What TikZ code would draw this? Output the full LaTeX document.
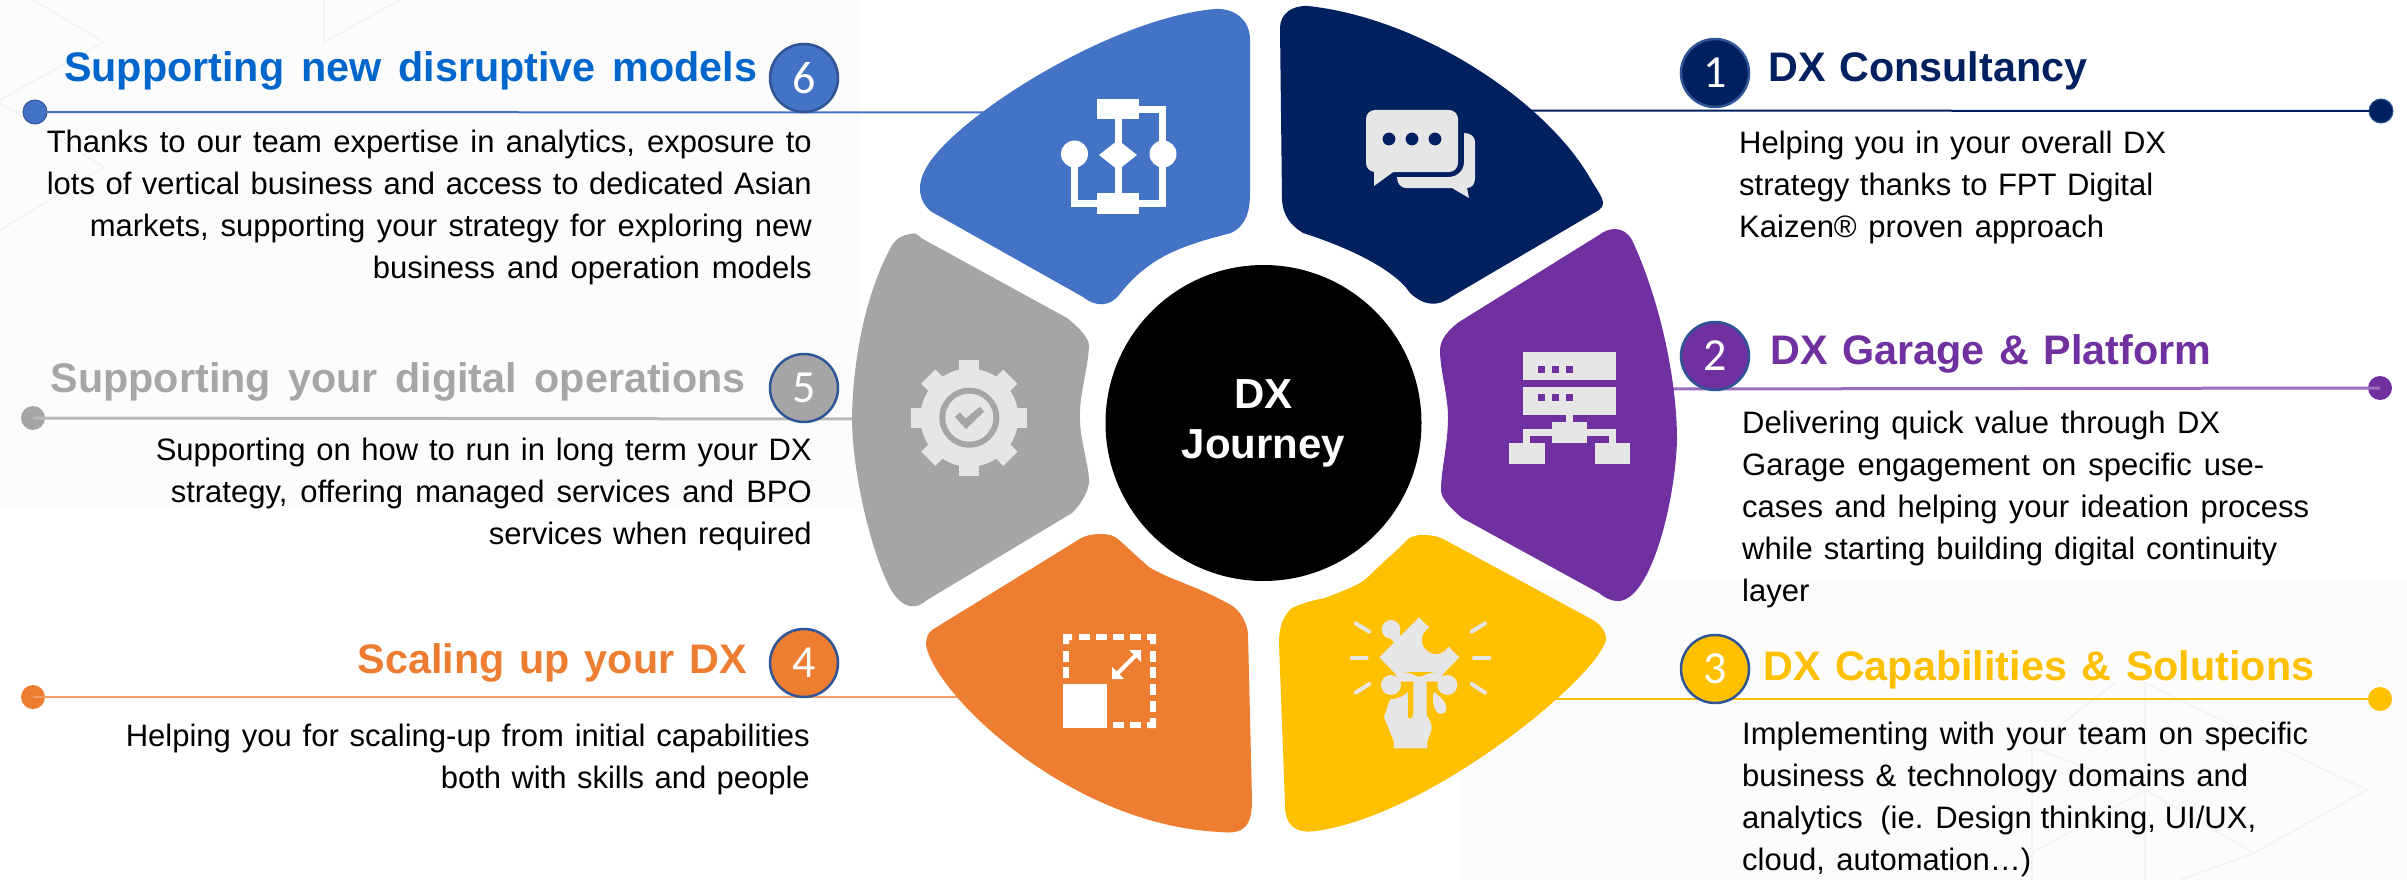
\documentclass[tikz,border=0pt]{standalone}
\usepackage{fontspec}
\setmainfont{Liberation Sans}
\newfontfamily\numfont{Carlito}
\definecolor{cblue}{HTML}{4472C4}
\definecolor{cnavy}{HTML}{002060}
\definecolor{cpurple}{HTML}{7030A0}
\definecolor{cyellow}{HTML}{FFC000}
\definecolor{corange}{HTML}{ED7D31}
\definecolor{cgrey}{HTML}{A5A5A5}
\definecolor{cedge}{HTML}{2F5597}
\definecolor{cicon}{HTML}{E7E6E6}
\definecolor{ctitle}{HTML}{0066CC}
\definecolor{cdeco}{HTML}{F3F3F3}
\newcommand{\fl}[2]{\makebox[#1pt][s]{#2}}
\tikzset{
  numcirc/.style={circle,draw=cedge,line width=2.5pt,fill=#1,text=white,minimum size=68pt,inner sep=0pt,font=\numfont\fontsize{46}{46}\selectfont},
  enddot/.style={circle,fill=#1,minimum size=24pt,inner sep=0pt},
  title/.style={inner sep=0pt,text=#1,font=\fontsize{41.3}{44}\selectfont\bfseries},
  bodyr/.style={inner sep=0pt,align=right,font=\fontsize{31}{41.8}\selectfont,anchor=base east},
  bodyl/.style={inner sep=0pt,align=left,font=\fontsize{31}{41.8}\selectfont,anchor=base west},
  petal/.style={fill=#1,draw=none},
  deco/.style={draw=cdeco,line width=1.6pt},
  leader/.style={line width=#1}
}
\begin{document}
\begin{tikzpicture}[x=1pt,y=-1pt]
\useasboundingbox (0,0) rectangle (2407,880);
\fill[white] (0,0) rectangle (2407,880);
% background tint and faint decoration
\fill[black!1] (0,0) rectangle (860,508);
\fill[black!1] (1460,580) rectangle (2407,880);
\draw[deco] (33,0) -- (104,42) -- (0,100);
\draw[deco] (0,103) -- (104,167) -- (0,230);
\draw[deco] (324,0) -- (324,42) -- (400,0);
\draw[deco] (2115,683) -- (2032,747) -- (2145,790) -- (2254,853) -- (2367,790) -- (2145,683) -- (2145,880);
\draw[deco] (2032,747) -- (2032,880);
\draw[deco] (2145,790) -- (2032,853);
\draw[deco] (2254,853) -- (2180,880);

% end dots and anchors
\node[enddot=cblue,draw=cedge,line width=1pt] (d6) at (35,112) {};
\node[enddot=cgrey] (d5) at (33,418) {};
\node[enddot=corange] (d4) at (33,697) {};
\node[enddot=cnavy,draw=cedge,line width=1pt] (d1) at (2381,111) {};
\node[enddot=cpurple] (d2) at (2380,388) {};
\node[enddot=cyellow] (d3) at (2380,699) {};
\coordinate (e6) at (1000,112.5);
\coordinate (e5) at (870,419);
\coordinate (e4) at (960,697);
\coordinate (e1) at (1520,110.5);
\coordinate (e2) at (1660,389);
\coordinate (e3) at (1550,699);
\draw[leader=2pt,draw=cblue] (d6.center) -- (e6);
\draw[leader=3pt,draw=black!28] (d5.center) -- (e5);
\draw[leader=2.5pt,draw=corange!75] (d4.center) -- (e4);
\draw[leader=2pt,draw=cnavy] (d1.center) -- (e1);
\draw[leader=3pt,draw=cpurple!70] (d2.center) -- (e2);
\draw[leader=2.5pt,draw=cyellow] (d3.center) -- (e3);

% petals
\path[petal=cblue] (1250,40) .. controls (1250,20) and (1235,8) .. (1215,9)
  .. controls (1110,18) and (950,120) .. (925,170)
  .. controls (917,185) and (918,202) .. (932,212)
  -- (1083,297) .. controls (1097,308) and (1110,306) .. (1119,295)
  .. controls (1150,255) and (1185,245) .. (1231,233)
  .. controls (1247,225) and (1250,210) .. (1250,193) -- cycle;
\path[petal=cnavy] (1280,28) .. controls (1280,14) and (1292,5) .. (1308,6)
  .. controls (1420,18) and (1545,100) .. (1590,178)
  .. controls (1600,195) and (1608,203) .. (1599,210)
  -- (1451,297) .. controls (1438,307) and (1424,306) .. (1410,293)
  .. controls (1395,270) and (1350,248) .. (1303,233)
  .. controls (1290,225) and (1283,215) .. (1282,200) -- cycle;
\path[petal=cgrey] (910,234) .. controls (916,232) and (918,235) .. (921,238)
  -- (1067,318) .. controls (1082,330) and (1090,340) .. (1089,347)
  .. controls (1087,375) and (1079,395) .. (1080,420)
  .. controls (1080,440) and (1090,470) .. (1089,483)
  .. controls (1087,495) and (1080,505) .. (1072,513)
  -- (927,600) .. controls (918,608) and (905,612) .. (891,590)
  .. controls (870,550) and (852,470) .. (852,417)
  .. controls (853,360) and (865,295) .. (891,247)
  .. controls (896,238) and (903,235) .. (910,234) -- cycle;
\path[petal=cpurple] (1615,229) .. controls (1622,229) and (1628,233) .. (1632,240)
  .. controls (1660,300) and (1677,380) .. (1677,440)
  .. controls (1675,505) and (1650,601) .. (1618,601)
  .. controls (1610,601) and (1604,597) .. (1599,593)
  -- (1462,518) .. controls (1447,505) and (1441,497) .. (1441,490)
  .. controls (1441,470) and (1448,445) .. (1448,417)
  .. controls (1448,395) and (1440,370) .. (1440,350)
  .. controls (1440,340) and (1448,330) .. (1459,322) -- (1599,235)
  .. controls (1604,231) and (1610,229) .. (1615,229) -- cycle;
\path[petal=corange] (1102,534) .. controls (1094,534) and (1085,535) .. (1078,540)
  -- (932,630) .. controls (928,633) and (926,638) .. (926,645)
  .. controls (935,695) and (1070,825) .. (1220,832)
  .. controls (1245,835) and (1252,825) .. (1252,800)
  -- (1248,633) .. controls (1246,620) and (1240,611) .. (1231,605)
  .. controls (1195,585) and (1170,580) .. (1149,567)
  .. controls (1135,555) and (1125,545) .. (1119,540)
  .. controls (1115,536) and (1109,534) .. (1102,534) -- cycle;
\path[petal=cyellow] (1423,535) .. controls (1430,535) and (1438,536) .. (1445,540)
  -- (1593,620) .. controls (1602,626) and (1606,632) .. (1606,640)
  .. controls (1595,680) and (1430,815) .. (1316,831)
  .. controls (1295,834) and (1285,825) .. (1285,805)
  -- (1279,643) .. controls (1279,628) and (1283,615) .. (1292,608)
  .. controls (1305,602) and (1315,600) .. (1325,598)
  .. controls (1345,590) and (1360,585) .. (1368,577)
  .. controls (1385,560) and (1400,548) .. (1407,540)
  .. controls (1411,536) and (1417,535) .. (1423,535) -- cycle;

% centre
\node[circle,fill=black,minimum size=316pt,inner sep=0pt,text=white,align=center,font=\fontsize{42}{50}\selectfont\bfseries] (hub) at (1263.5,423) {DX\\Journey};

% icon 6: flowchart
\begin{scope}[white]
\fill (1097,99) rectangle (1139,119);
\fill (1097,193) rectangle (1139,214);
\fill (1118,140) -- (1137,155) -- (1118,170) -- (1099,155) -- cycle;
\fill (1074.5,154) circle (13.5);
\fill (1163,154) circle (13.5);
\draw[line width=7pt] (1118,119) -- (1118,193);
\draw[line width=7pt] (1139,109.5) -- (1162.5,109.5) -- (1162.5,141);
\draw[line width=7pt] (1162.5,167) -- (1162.5,203.5) -- (1139,203.5);
\draw[line width=7pt] (1074.5,167) -- (1074.5,203.5) -- (1097,203.5);
\end{scope}
% icon 1: chat
\fill[cicon,rounded corners=9pt] (1366,110) rectangle (1458,172);
\fill[cicon] (1374,170) -- (1374,186) -- (1396,170) -- cycle;
\foreach \px in {1389,1412,1435} \fill[cnavy] (\px,139) circle (6.4);
\fill[cicon] (1464,133) .. controls (1471,133) and (1475,137) .. (1475,142) -- (1475,178)
  .. controls (1475,184) and (1472,188) .. (1467,188) -- (1469,198) -- (1452,188) -- (1407,188)
  .. controls (1400,188) and (1397,183) .. (1397,177) -- (1448,177)
  .. controls (1458,177) and (1464,170) .. (1464,162) -- cycle;
% icon 2: servers
\begin{scope}[cicon]
\fill (1523,352) rectangle (1616,380);
\fill (1523,387) rectangle (1616,415);
\fill (1566,415) rectangle (1573,422);
\fill (1552,422) rectangle (1587,443);
\fill (1523,429) rectangle (1616,436);
\fill (1523,429) rectangle (1530,443);
\fill (1609,429) rectangle (1616,443);
\fill (1509,443) rectangle (1545,464);
\fill (1594.5,443) rectangle (1630,464);
\end{scope}
\foreach \py in {366,394} \foreach \px in {1538,1552,1566} \fill[cpurple] (\px,\py) rectangle ++(7,7);
% icon 5: gear
\begin{scope}[shift={(969.3,417.7)}]
\fill[cicon] (0,0) circle (49);
\foreach \ang in {0,45,...,315} \fill[cicon,rotate=\ang] (-10,-58) rectangle (10,-40);
\fill[cgrey] (0,0) circle (30);
\fill[cicon] (0,0) circle (24);
\fill[cgrey] (-14.3,-0.6) -- (-9.3,-5.3) -- (-3.7,0.7) -- (10.7,-11) -- (14.7,-6) -- (-3.3,11.3) -- cycle;
\end{scope}
% icon 4: resize
\begin{scope}[white]
\fill (1063,684) rectangle (1107,728);
\foreach \px in {1079,1096,1113,1130} \fill (\px,634) rectangle ++(11,6);
\foreach \px in {1113,1130} \fill (\px,722) rectangle ++(11,6);
\foreach \py in {651,667} {\fill (1063,\py) rectangle ++(6,11); \fill (1150,\py) rectangle ++(6,11);}
\foreach \py in {684,701} \fill (1150,\py) rectangle ++(6,11);
\fill (1063,634) -- (1072,634) -- (1072,640) -- (1069,640) -- (1069,644) -- (1063,644) -- cycle;
\fill (1156,634) -- (1147,634) -- (1147,640) -- (1150,640) -- (1150,644) -- (1156,644) -- cycle;
\fill (1156,728) -- (1147,728) -- (1147,722) -- (1150,722) -- (1150,718) -- (1156,718) -- cycle;
\draw[line width=4pt] (1117,674) -- (1136,655);
\fill (1129,650) -- (1141,650) -- (1141,662) -- cycle;
\fill (1112,667) -- (1112,679) -- (1124,679) -- cycle;
\end{scope}
% icon 3: puzzle and hand
\begin{scope}[shift={(1330,610)},scale=1/3]
\begin{scope}[cicon]
\draw[line width=4pt,line cap=round] (77,40) -- (118,65);
\draw[line width=4pt,line cap=round] (425,65) -- (465,40);
\draw[line width=4pt,line cap=round] (65,143) -- (110,143);
\draw[line width=4pt,line cap=round] (432,143) -- (478,143);
\draw[line width=4pt,line cap=round] (77,248) -- (118,222);
\draw[line width=4pt,line cap=round] (425,222) -- (465,248);
\fill (148,142) -- (267,22) -- (388,142) -- (343,188) -- (325,215) -- (210,215) -- (193,188) -- cycle;
\fill (183,58) circle (28);
\fill (172,75) -- (205,60) -- (215,85) -- (195,100) -- cycle;
\fill (183,225) circle (30);
\fill (352,225) circle (30);
\end{scope}
\fill[cyellow] (318,90) circle (42);
\fill[cyellow,rounded corners=30pt] (232,186) rectangle (305,330);
\fill[cyellow] (170,262) .. controls (200,262) and (225,245) .. (235,225) -- (240,262) -- cycle;
\fill[cyellow] (305,225) -- (320,240) -- (310,300) -- (300,300) -- cycle;
\fill[cicon] (180,268) .. controls (205,268) and (225,255) .. (235,245) -- (250,330) -- (250,225)
  .. controls (250,190) and (290,190) .. (290,225) -- (290,315)
  .. controls (298,330) and (307,345) .. (305,358) -- (292,395) -- (292,415) -- (192,415) -- (192,395) -- (162,322) -- cycle;
\fill[cicon] (312,245) .. controls (320,255) and (345,265) .. (348,290) -- (348,300)
  .. controls (348,310) and (335,313) .. (325,310) .. controls (310,300) and (305,265) .. (312,245) -- cycle;
\draw[cyellow,line width=4pt,line cap=round] (241,240) -- (241,320);
\end{scope}

% numbered circles
\node[numcirc=cblue] (n6) at (804,78) {6};
\node[numcirc=cgrey] (n5) at (804,388) {5};
\node[numcirc=corange] (n4) at (804,663) {4};
\node[numcirc=cnavy] (n1) at (1715,73) {1};
\node[numcirc=cpurple] (n2) at (1715,356) {2};
\node[numcirc=cyellow] (n3) at (1715,669) {3};

% titles
\node[title=ctitle,anchor=base west] (t6) at (64,82) {\fl{693}{Supporting new disruptive models}};
\node[title=black!35,anchor=base west] (t5) at (50.5,392) {\fl{695}{Supporting your digital operations}};
\node[title=corange,anchor=base east] (t4) at (747,673) {\fl{389}{Scaling up your DX}};
\node[title=cnavy,anchor=base west] (t1) at (1768,82) {\fl{319}{DX Consultancy}};
\node[title=cpurple,anchor=base west] (t2) at (1770,364) {\fl{441}{DX Garage \& Platform}};
\node[title=cyellow,anchor=base west] (t3) at (1763,680) {\fl{551}{DX Capabilities \& Solutions}};

% body texts
\node[bodyr] (b6) at (812,278) {\fl{765}{Thanks to our team expertise in analytics, exposure to}\\\fl{765}{lots of vertical business and access to dedicated Asian}\\\fl{722}{markets, supporting your strategy for exploring new}\\\fl{439}{business and operation models}};
\node[bodyr] (b5) at (812,544) {\fl{656}{Supporting on how to run in long term your DX}\\\fl{641}{strategy, offering managed services and BPO}\\\fl{323}{services when required}};
\node[bodyr] (b4) at (810,788) {\fl{684}{Helping you for scaling-up from initial capabilities}\\\fl{369}{both with skills and people}};
\node[bodyl] (b1) at (1739,237) {\fl{427}{Helping you in your overall DX}\\\fl{414}{strategy thanks to FPT Digital}\\\fl{365}{Kaizen® proven approach}};
\node[bodyl] (b2) at (1742,601) {\fl{478}{Delivering quick value through DX}\\\fl{522}{Garage engagement on specific use-}\\\fl{567}{cases and helping your ideation process}\\\fl{535}{while starting building digital continuity}\\layer};
\node[bodyl] (b3) at (1742,870) {\fl{566}{Implementing with your team on specific}\\\fl{506}{business \& technology domains and}\\\fl{514}{analytics\ \ (ie. Design thinking, UI/UX,}\\\fl{289}{cloud, automation…)}};
\end{tikzpicture}
\end{document}
